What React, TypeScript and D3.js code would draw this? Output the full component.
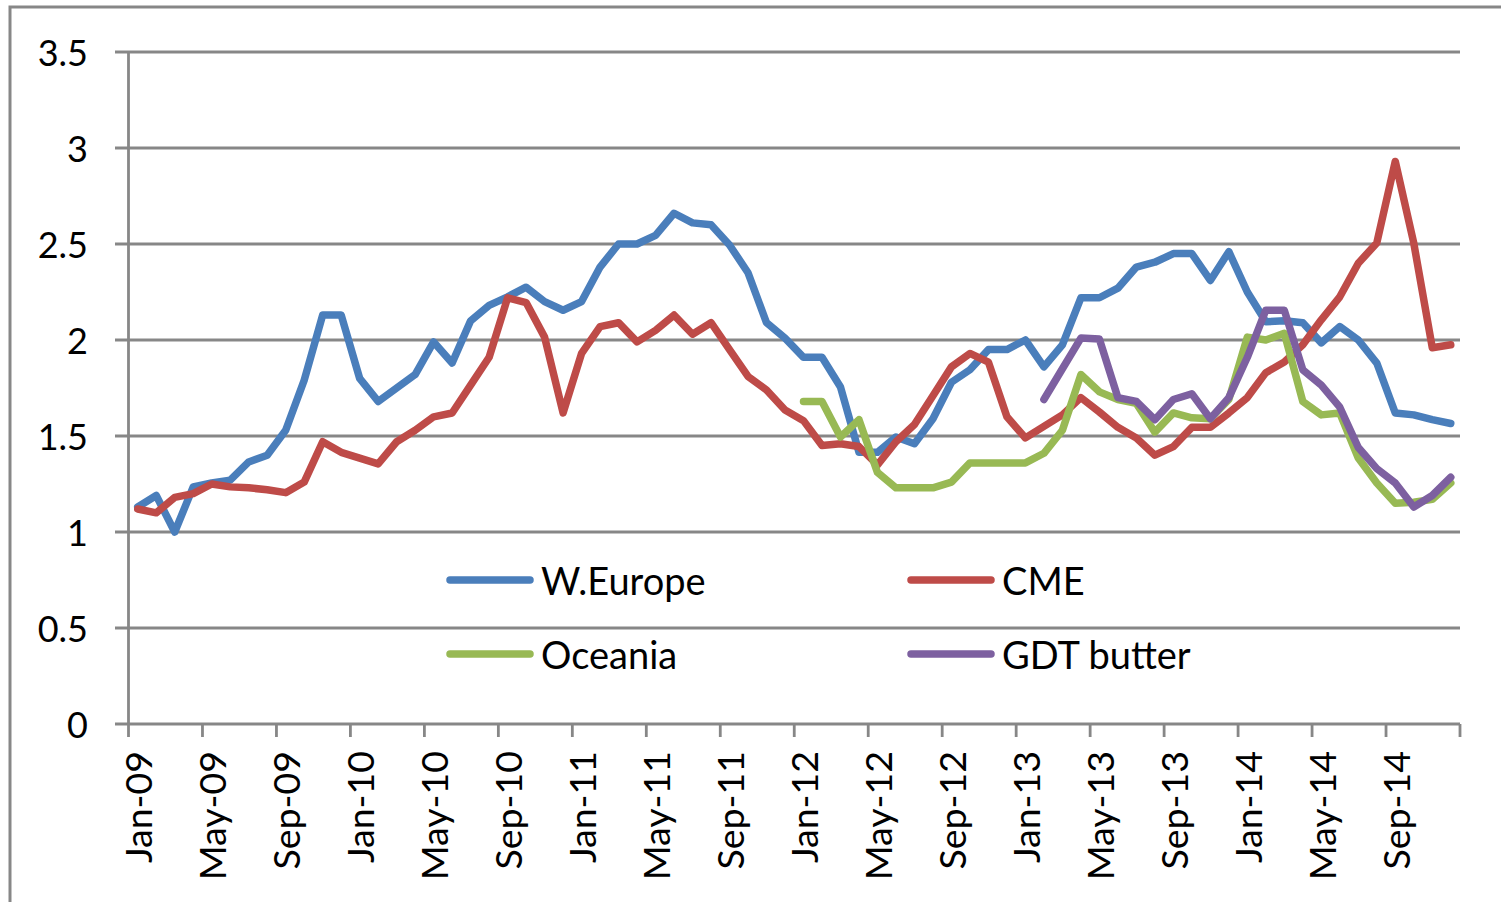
import React from "react";
import * as d3 from "d3";

const monthNames = ["Jan","Feb","Mar","Apr","May","Jun","Jul","Aug","Sep","Oct","Nov","Dec"];
const years = ["09","10","11","12","13","14"];
const months: string[] = years.flatMap((y) => monthNames.map((m) => `${m}-${y}`));

const tickLabels = ["Jan-09","May-09","Sep-09","Jan-10","May-10","Sep-10","Jan-11","May-11","Sep-11","Jan-12","May-12","Sep-12","Jan-13","May-13","Sep-13","Jan-14","May-14","Sep-14"];
const yTicks = [0, 0.5, 1, 1.5, 2, 2.5, 3, 3.5];

const wEurope = [
  1.13, 1.19, 1.00, 1.235, 1.255, 1.27, 1.365, 1.40, 1.53, 1.79, 2.13, 2.13,
  1.80, 1.68, 1.75, 1.82, 1.99, 1.88, 2.10, 2.18, 2.225, 2.275, 2.20, 2.155,
  2.20, 2.38, 2.50, 2.50, 2.545, 2.66, 2.61, 2.60, 2.495, 2.35, 2.09, 2.01,
  1.91, 1.91, 1.755, 1.415, 1.415, 1.495, 1.46, 1.59, 1.78, 1.845, 1.95, 1.95,
  2.0, 1.86, 1.975, 2.22, 2.22, 2.27, 2.38, 2.405, 2.45, 2.45, 2.31, 2.46,
  2.25, 2.095, 2.10, 2.09, 1.985, 2.07, 2.0, 1.88, 1.62, 1.61, 1.585, 1.565,
];
const cme = [
  1.12, 1.10, 1.18, 1.20, 1.25, 1.235, 1.23, 1.22, 1.205, 1.26, 1.47, 1.415,
  1.385, 1.355, 1.47, 1.53, 1.60, 1.62, 1.765, 1.91, 2.22, 2.195, 2.015, 1.62,
  1.93, 2.07, 2.09, 1.99, 2.05, 2.13, 2.03, 2.09, 1.95, 1.81, 1.74, 1.635,
  1.58, 1.45, 1.46, 1.445, 1.35, 1.47, 1.56, 1.71, 1.86, 1.93, 1.885, 1.60,
  1.49, 1.55, 1.61, 1.70, 1.625, 1.545, 1.49, 1.40, 1.445, 1.545, 1.545, 1.62,
  1.70, 1.83, 1.885, 1.975, 2.105, 2.225, 2.40, 2.505, 2.93, 2.505, 1.96, 1.975,
];
const oceania: (number | null)[] = [
  null, null, null, null, null, null, null, null, null, null, null, null,
  null, null, null, null, null, null, null, null, null, null, null, null,
  null, null, null, null, null, null, null, null, null, null, null, null,
  1.68, 1.68, 1.495, 1.585, 1.31, 1.23, 1.23, 1.23, 1.26, 1.36, 1.36, 1.36,
  1.36, 1.41, 1.53, 1.82, 1.73, 1.69, 1.67, 1.52, 1.62, 1.595, 1.59, 1.69,
  2.015, 2.0, 2.035, 1.68, 1.61, 1.62, 1.385, 1.255, 1.15, 1.155, 1.17, 1.255,
];
const gdtButter: (number | null)[] = [
  null, null, null, null, null, null, null, null, null, null, null, null,
  null, null, null, null, null, null, null, null, null, null, null, null,
  null, null, null, null, null, null, null, null, null, null, null, null,
  null, null, null, null, null, null, null, null, null, null, null, null,
  null, 1.69, 1.85, 2.01, 2.005, 1.70, 1.68, 1.585, 1.69, 1.72, 1.59, 1.70,
  1.91, 2.155, 2.155, 1.845, 1.765, 1.65, 1.44, 1.33, 1.255, 1.13, 1.19, 1.285,
];

const seriesNames = ["W.Europe", "CME", "Oceania", "GDT butter"];
const seriesColors = ["#4A7EBB", "#BE4B48", "#98B954", "#7D60A0"];
const seriesData = [wEurope, cme, oceania, gdtButter];

const W = 1501;
const H = 902;
const FONT = "Lato, 'Open Sans', sans-serif";

export default function App() {
  const left = 128.5;
  const right = 1460;
  const top = 52;
  const bottom = 724;

  const x = d3.scaleBand<string>().domain(months).range([left, right]).padding(0);
  const bw = x.bandwidth();
  const cx = (m: string) => (x(m) as number) + bw / 2;
  const y = d3.scaleLinear().domain([0, 3.5]).range([bottom, top]);

  const line = d3
    .line<number | null>()
    .defined((d) => d != null)
    .x((_, i) => cx(months[i]))
    .y((d) => y(d as number));

  const tickIdx = months.map((_, i) => i).filter((i) => i % 4 === 0);
  const boundaries = [...tickIdx.map((i) => x(months[i]) as number), right];

  const legendItems = [
    { name: seriesNames[0], color: seriesColors[0], lx: 450, ly: 580 },
    { name: seriesNames[1], color: seriesColors[1], lx: 911, ly: 580 },
    { name: seriesNames[2], color: seriesColors[2], lx: 450, ly: 654 },
    { name: seriesNames[3], color: seriesColors[3], lx: 911, ly: 654 },
  ];

  const grid = "#878787";

  return (
    <svg width={W} height={H} style={{ position: "absolute", left: 0, top: 0, background: "#fff" }}>
      <rect x={0} y={0} width={W} height={H} fill="#fff" />
      <rect x={10} y={7} width={W + 20} height={H + 20} fill="none" stroke={grid} strokeWidth={3} />
      {yTicks.map((t) => (
        <g key={t}>
          <line x1={115} x2={right} y1={y(t)} y2={y(t)} stroke={grid} strokeWidth={2.8} />
          <text
            x={88}
            y={y(t)}
            textAnchor="end"
            dominantBaseline="central"
            fontFamily={FONT}
            fontSize={36}
            fill="#000"
          >
            {t}
          </text>
        </g>
      ))}
      <line x1={left} x2={left} y1={top} y2={bottom} stroke={grid} strokeWidth={2.8} />
      {boundaries.map((bx, i) => (
        <line key={i} x1={bx} x2={bx} y1={bottom} y2={bottom + 13} stroke={grid} strokeWidth={2.8} />
      ))}
      {tickIdx.map((i, k) => (
        <text
          key={i}
          transform={`translate(${cx(months[i])},${bottom + 27}) rotate(-90)`}
          textAnchor="end"
          dominantBaseline="central"
          fontFamily={FONT}
          fontSize={37.5}
          fill="#000"
        >
          {tickLabels[k]}
        </text>
      ))}
      {seriesData.map((s, k) => (
        <path
          key={k}
          d={line(s) || ""}
          fill="none"
          stroke={seriesColors[k]}
          strokeWidth={7.5}
          strokeLinejoin="round"
          strokeLinecap="round"
        />
      ))}
      {legendItems.map((it) => (
        <g key={it.name}>
          <line x1={it.lx} x2={it.lx + 80} y1={it.ly} y2={it.ly} stroke={it.color} strokeWidth={7.5} strokeLinecap="round" />
          <text x={it.lx + 91} y={it.ly} dominantBaseline="central" fontFamily={FONT} fontSize={38} fill="#000">
            {it.name}
          </text>
        </g>
      ))}
    </svg>
  );
}
